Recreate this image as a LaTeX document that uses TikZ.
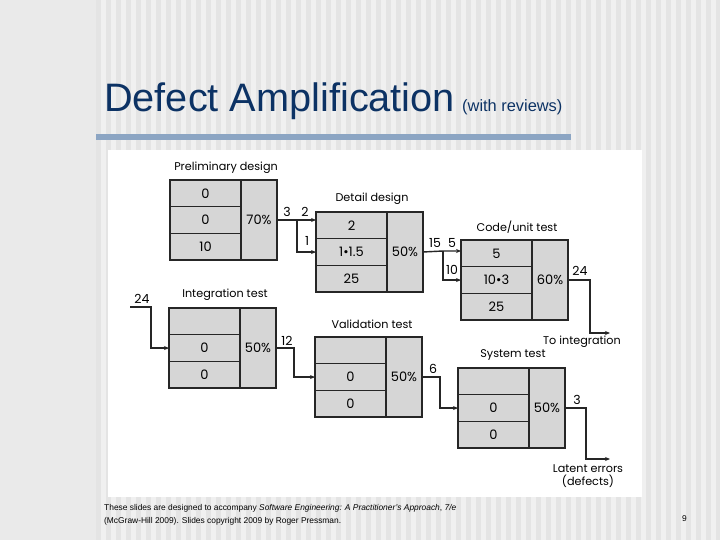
\documentclass[tikz,border=0pt]{standalone}
\usepackage{fontspec}
\setmainfont{Liberation Sans}
\newfontfamily\diagfont{Poppins}
\usepackage{xcolor}
\usepackage{tikz}
\usetikzlibrary{arrows.meta, positioning}

\definecolor{titleblue}{RGB}{12,50,100}
\definecolor{barblue}{RGB}{140,165,195}
\definecolor{cellgray}{RGB}{214,214,214}
\definecolor{slidegray}{RGB}{234,234,234}
\definecolor{stripegray}{RGB}{228,228,228}
\definecolor{stripelight}{RGB}{240,240,240}

\tikzset{
  cell/.style={rectangle, draw=black!85, line width=1.5pt, fill=cellgray, minimum width=71pt, minimum height=26.7pt, inner sep=0pt, outer sep=0pt, font=\diagfont\fontsize{13}{13}\selectfont},
  pctcell/.style={cell, minimum width=36pt, minimum height=80pt},
  stagelbl/.style={font=\diagfont\fontsize{11.2}{12.5}\selectfont, inner sep=0pt},
  flowlbl/.style={font=\diagfont\fontsize{12.5}{12.5}\selectfont, inner sep=0pt},
  flow/.style={draw=black!85, line width=1.4pt, -{Stealth[length=5pt,width=4pt]}},
  footer/.style={anchor=base west, inner sep=0pt, font=\fontsize{8.4}{9}\selectfont},
}

\begin{document}
\begin{tikzpicture}[x=1pt, y=-1pt]
    \useasboundingbox (0,0) rectangle (720,540);

    % Slide background
    \fill[slidegray] (0,0) rectangle (720,540);
    \fill[stripelight] (96,0) rectangle (720,540);
    \foreach \x in {96,106,...,716}
        \fill[stripegray] (\x,0) rectangle ++(5,540);

    % Title
    \node[anchor=base west, inner sep=0pt, text=titleblue, font=\fontsize{39.7}{40}\selectfont] (title) at (104,112) {Defect Amplification};
    \node[anchor=base west, inner sep=0pt, text=titleblue, font=\fontsize{16.4}{17}\selectfont] (subtitle) at (462,112) {(with reviews)};
    \fill[barblue] (96,134) rectangle (571,140.5);

    % Diagram area
    \fill[white] (108,150) rectangle (642,497);

    % Preliminary design
    \node[cell, anchor=north west] (pd1) at (170,180) {0};
    \node[cell, below=0pt of pd1] (pd2) {0};
    \node[cell, below=0pt of pd2] (pd3) {10};
    \node[pctcell, anchor=north west] (pdp) at (pd1.north east) {70\%};
    \node[stagelbl] (pdlbl) at (226,168) {Preliminary design};

    % Detail design
    \node[cell, anchor=north west] (dd1) at (316,212) {2};
    \node[cell, below=0pt of dd1] (dd2) {1\textbullet1.5};
    \node[cell, below=0pt of dd2] (dd3) {25};
    \node[pctcell, anchor=north west] (ddp) at (dd1.north east) {50\%};
    \node[stagelbl] (ddlbl) at (372,199) {Detail design};

    % Code/unit test
    \node[cell, anchor=north west] (cu1) at (461,240) {5};
    \node[cell, below=0pt of cu1] (cu2) {10\textbullet3};
    \node[cell, below=0pt of cu2] (cu3) {25};
    \node[pctcell, anchor=north west] (cup) at (cu1.north east) {60\%};
    \node[stagelbl] (culbl) at (517,227) {Code/unit test};

    % Integration test
    \node[cell, anchor=north west] (it1) at (169,308) {};
    \node[cell, below=0pt of it1] (it2) {0};
    \node[cell, below=0pt of it2] (it3) {0};
    \node[pctcell, anchor=north west] (itp) at (it1.north east) {50\%};
    \node[stagelbl] (itlbl) at (225,295) {Integration test};

    % Validation test
    \node[cell, anchor=north west] (vt1) at (315,337) {};
    \node[cell, below=0pt of vt1] (vt2) {0};
    \node[cell, below=0pt of vt2] (vt3) {0};
    \node[pctcell, anchor=north west] (vtp) at (vt1.north east) {50\%};
    \node[stagelbl] (vtlbl) at (372,324) {Validation test};

    % System test
    \node[cell, anchor=north west] (st1) at (458,368) {};
    \node[cell, below=0pt of st1] (st2) {0};
    \node[cell, below=0pt of st2] (st3) {0};
    \node[pctcell, anchor=north west] (stp) at (st1.north east) {50\%};
    \node[stagelbl] (stlbl) at (513,355) {System test};

    % Flows between stages
    \coordinate (pdj) at (297,220);
    \draw[flow] (pdp.east) -- (pdj) -- (pdj -| dd1.west);
    \draw[flow] (pdj) |- (dd2.west);
    \node[flowlbl] at (287,212) {3};
    \node[flowlbl] at (305,212) {2};
    \node[flowlbl] at (307,241) {1};

    \coordinate (ddj) at (443,251);
    \draw[flow] (ddp.east) -- (ddj) -- (ddj -| cu1.west);
    \draw[flow] (ddj) |- (cu2.west);
    \node[flowlbl] at (435,243) {15};
    \node[flowlbl] at (452,243) {5};
    \node[flowlbl] at (452,270) {10};

    \coordinate (cuout) at (610,333);
    \draw[flow] (cup.east) -- ++(22,0) |- (cuout);
    \node[flowlbl] at (580,271) {24};
    \node[stagelbl] (tointeg) at (582,342) {To integration};

    \coordinate (itin) at (130,307);
    \draw[flow] (itin) -- ++(21,0) |- (it2.west);
    \node[flowlbl] at (142,299) {24};

    \draw[flow] (itp.east) -- ++(18,0) |- (vt2.west);
    \node[flowlbl] at (287,341) {12};

    \draw[flow] (vtp.east) -- ++(18,0) |- (st2.west);
    \node[flowlbl] at (433,369) {6};

    \coordinate (stout) at (610,459);
    \draw[flow] (stp.east) -- ++(21,0) |- (stout);
    \node[flowlbl] at (577,400) {3};
    \node[stagelbl, align=center] (latent) at (588,476) {Latent errors\\(defects)};

    % Footer
    \node[footer] (foot1) at (104,510) {These slides are designed to accompany \textit{Software Engineering: A Practitioner's Approach}, \textit{7/e}};
    \node[footer] (foot2) at (104,523) {(McGraw-Hill 2009). Slides copyright 2009 by Roger Pressman.};
    \node[footer] (pagenum) at (682,521) {9};
\end{tikzpicture}
\end{document}
